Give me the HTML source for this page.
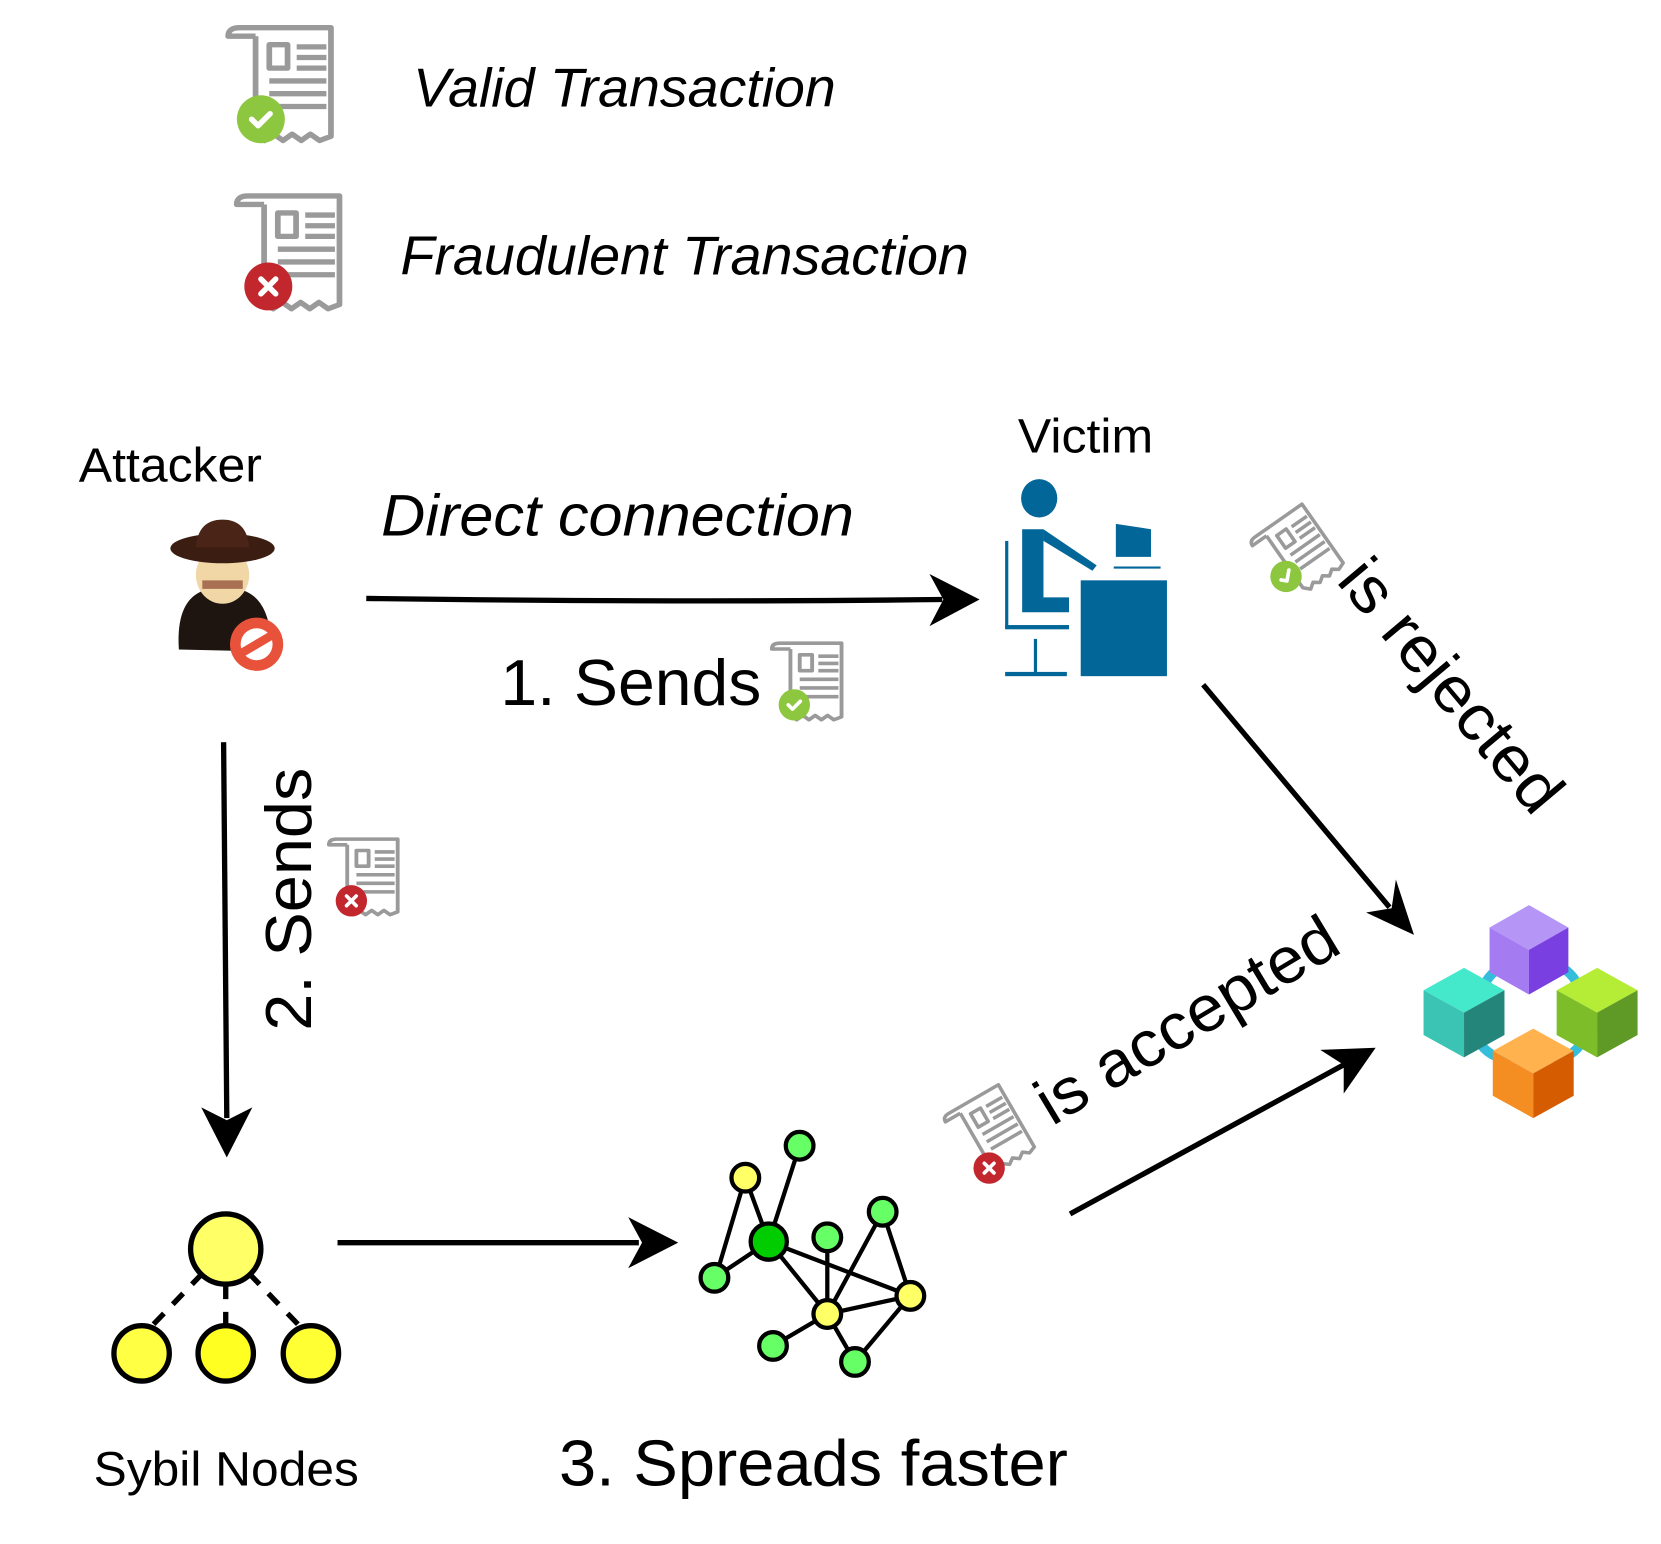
<!DOCTYPE html>
<html><head><meta charset="utf-8"><style>
html,body{margin:0;padding:0;background:#fff;width:1661px;height:1544px;overflow:hidden}
svg{display:block}
text{font-family:"Liberation Sans",Arial,sans-serif;fill:#000}
</style></head><body>
<svg width="1661" height="1544" viewBox="0 0 1560 1450" preserveAspectRatio="none" xmlns="http://www.w3.org/2000/svg">
<defs>
<symbol id="doc" viewBox="0 0 110 118" overflow="visible" preserveAspectRatio="none">
  <g fill="none" stroke="#9a9a9a" stroke-width="5" stroke-linejoin="round">
    <path d="M28 14 V104 l8 8 8-6 8 6 8-6 8 6 8-6 8 6 10-4 V6 H14 q-10 0 -10 8 h24"/>
    <rect x="40" y="22" width="16" height="22"/>
    <path d="M64 24 h26 M64 34 h26 M64 44 h26 M40 56 h50 M40 68 h50 M40 80 h50"/>
  </g>
</symbol>
<symbol id="ok" viewBox="-30 -30 60 60" overflow="visible">
  <circle r="26" fill="#8dc63f"/><path d="M-10 0 l7 7 13-13" fill="none" stroke="#fff" stroke-width="6" stroke-linecap="round" stroke-linejoin="round"/>
</symbol>
<symbol id="bad" viewBox="-30 -30 60 60" overflow="visible">
  <circle r="26" fill="#c1272d"/><path d="M-8 -8 l16 16 M8 -8 l-16 16" stroke="#fff" stroke-width="6" stroke-linecap="round"/>
</symbol>
</defs>

<!-- legend -->
<use href="#doc" x="210" y="20" width="118" height="118"/>
<use href="#ok" x="219" y="86" width="52" height="52"/>
<text x="388" y="100" font-size="51" font-style="italic" textLength="397" lengthAdjust="spacingAndGlyphs">Valid Transaction</text>
<use href="#doc" x="218" y="178" width="118" height="118"/>
<use href="#bad" x="226" y="243" width="52" height="52"/>
<text x="376" y="258" font-size="51" font-style="italic" textLength="534" lengthAdjust="spacingAndGlyphs">Fraudulent Transaction</text>

<!-- labels -->
<text x="74" y="452" font-size="45" textLength="172" lengthAdjust="spacingAndGlyphs">Attacker</text>
<text x="956" y="425" font-size="45" textLength="127" lengthAdjust="spacingAndGlyphs">Victim</text>
<text x="358" y="503" font-size="55" font-style="italic" textLength="444" lengthAdjust="spacingAndGlyphs">Direct connection</text>
<text x="470" y="662" font-size="61" textLength="245" lengthAdjust="spacingAndGlyphs">1. Sends</text>
<use href="#doc" x="722" y="600" width="80" height="80"/>
<use href="#ok" x="729" y="645" width="34" height="34"/>
<text transform="translate(292,968) rotate(-90)" font-size="61" textLength="247" lengthAdjust="spacingAndGlyphs">2. Sends</text>
<use href="#doc" x="306" y="784" width="79" height="79"/>
<use href="#bad" x="313" y="829" width="34" height="34"/>
<text transform="translate(1254,546) rotate(50)" font-size="61" textLength="290" lengthAdjust="spacingAndGlyphs">is rejected</text>
<g transform="translate(1222,518) rotate(-35)"><use href="#doc" x="-37" y="-40" width="74" height="78"/><use href="#ok" x="-42" y="-6" width="34" height="34"/></g>
<text transform="translate(988,1058) rotate(-31)" font-size="61" textLength="320" lengthAdjust="spacingAndGlyphs">is accepted</text>
<g transform="translate(933,1063) rotate(-30)"><use href="#doc" x="-37" y="-40" width="74" height="78"/></g>
<use href="#bad" x="912" y="1080" width="34" height="34"/>
<text x="88" y="1395" font-size="45" textLength="249" lengthAdjust="spacingAndGlyphs">Sybil Nodes</text>
<text x="525" y="1395" font-size="61" textLength="478" lengthAdjust="spacingAndGlyphs">3. Spreads faster</text>

<!-- arrows -->
<g stroke="#000" stroke-width="5" fill="none">
  <path d="M344 562 Q640 566 885 563"/>
  <path d="M210 697 L213 1050"/>
  <path d="M317 1167 L600 1167"/>
  <path d="M1130 643 L1305 852"/>
  <path d="M1005 1140 L1262 1000"/>
</g>
<g fill="#000">
  <path d="M920 563 L873 539 L886 563 L873 588 Z"/>
  <path d="M213 1087 L189 1040 L213 1052 L237 1040 Z"/>
  <path d="M637 1167 L590 1143 L603 1167 L590 1191 Z"/>
  <path d="M1328 878 L1283 857 L1307 853 L1311 826 Z"/>
  <path d="M1292 984 L1240 986 L1262 1000 L1262 1027 Z"/>
</g>

<!-- attacker -->
<g>
  <path d="M168 610 Q165 565 190 555 L230 555 Q255 565 255 612 Z" fill="#1e1410"/>
  <ellipse cx="209" cy="540" rx="25" ry="27" fill="#f1d6a6"/>
  <path d="M190 545 h38 v8 h-38z" fill="#7a2b1c" opacity=".6"/>
  <ellipse cx="209" cy="515" rx="49" ry="14" fill="#3b1d12"/>
  <path d="M184 514 Q186 488 209 488 Q232 488 234 514 Z" fill="#4a2416"/>
  <circle cx="241" cy="605" r="25" fill="#e8523a"/>
  <circle cx="241" cy="605" r="15" fill="#fff"/>
  <path d="M224 615 L258 595" stroke="#e8523a" stroke-width="8"/>
</g>

<!-- victim -->
<g fill="#036699">
  <ellipse cx="976" cy="468" rx="17" ry="18"/>
  <path d="M960 497 h20 v64 h24 v14 h-44z"/>
  <path d="M980 497 l50 34 -4 5 -46 -28z"/>
  <rect x="944" y="508" width="3" height="82"/>
  <rect x="944" y="587" width="60" height="4"/>
  <rect x="971" y="600" width="3" height="34"/>
  <rect x="944" y="631" width="58" height="4"/>
  <rect x="1015" y="545" width="81" height="90"/>
  <path d="M1048 492 L1081 497 L1081 523 L1048 523 Z"/>
  <rect x="1046" y="532" width="44" height="2"/>
</g>

<!-- blockchain cubes -->
<g stroke="#34bedc" stroke-width="9" fill="none" stroke-linecap="round">
  <path d="M1418 904 Q1398 912 1392 930"/>
  <path d="M1458 904 Q1478 912 1484 930"/>
  <path d="M1385 972 Q1395 992 1415 995"/>
  <path d="M1490 972 Q1480 992 1462 995"/>
</g>
<g>
  <g transform="translate(1436,892)">
    <path d="M0 -42 L37 -21 L0 0 L-37 -21Z" fill="#b596f7"/>
    <path d="M-37 -21 L0 0 L0 42 L-37 21Z" fill="#a57bf2"/>
    <path d="M37 -21 L0 0 L0 42 L37 21Z" fill="#7a3fe0"/>
  </g>
  <g transform="translate(1375,951)">
    <path d="M0 -42 L38 -21 L0 0 L-38 -21Z" fill="#44e8cb"/>
    <path d="M-38 -21 L0 0 L0 42 L-38 21Z" fill="#3bc4b3"/>
    <path d="M38 -21 L0 0 L0 42 L38 21Z" fill="#24867a"/>
  </g>
  <g transform="translate(1500,951)">
    <path d="M0 -42 L38 -21 L0 0 L-38 -21Z" fill="#b4ec36"/>
    <path d="M-38 -21 L0 0 L0 42 L-38 21Z" fill="#7dbd2a"/>
    <path d="M38 -21 L0 0 L0 42 L38 21Z" fill="#5e9a25"/>
  </g>
  <g transform="translate(1440,1008)">
    <path d="M0 -42 L38 -21 L0 0 L-38 -21Z" fill="#ffb24d"/>
    <path d="M-38 -21 L0 0 L0 42 L-38 21Z" fill="#f58e22"/>
    <path d="M38 -21 L0 0 L0 42 L38 21Z" fill="#d55c00"/>
  </g>
</g>

<!-- sybil nodes -->
<g stroke="#000" stroke-width="5">
  <path d="M190 1196 L140 1248 M212 1206 V1245 M234 1196 L284 1248" stroke-dasharray="14 12"/>
  <circle cx="212" cy="1173" r="33" fill="#ffff66"/>
  <circle cx="133" cy="1271" r="26" fill="#ffff44"/>
  <circle cx="212" cy="1271" r="26" fill="#ffff22"/>
  <circle cx="292" cy="1271" r="26" fill="#ffff33"/>
</g>

<!-- network -->
<g stroke="#000" stroke-width="4">
  <path d="M700 1106 L722 1166 M751 1076 L722 1166 M722 1166 L671 1200 M700 1106 L675 1190 M722 1166 L777 1234 M777 1162 L777 1234 M829 1138 L777 1234 M829 1138 L855 1217 M722 1166 L855 1217 M777 1234 L855 1217 M777 1234 L726 1264 M855 1217 L803 1279 M777 1234 L803 1279" fill="none"/>
  <circle cx="751" cy="1076" r="13" fill="#66ff66"/>
  <circle cx="700" cy="1106" r="13" fill="#ffff66"/>
  <circle cx="777" cy="1162" r="13" fill="#66ff66"/>
  <circle cx="829" cy="1138" r="13" fill="#66ff66"/>
  <circle cx="671" cy="1200" r="13" fill="#66ff66"/>
  <circle cx="777" cy="1234" r="13" fill="#ffff66"/>
  <circle cx="855" cy="1217" r="13" fill="#ffff66"/>
  <circle cx="726" cy="1264" r="13" fill="#66ff66"/>
  <circle cx="803" cy="1279" r="13" fill="#66ff66"/>
  <circle cx="722" cy="1166" r="17" fill="#00cc00"/>
</g>
</svg>
</body></html>
